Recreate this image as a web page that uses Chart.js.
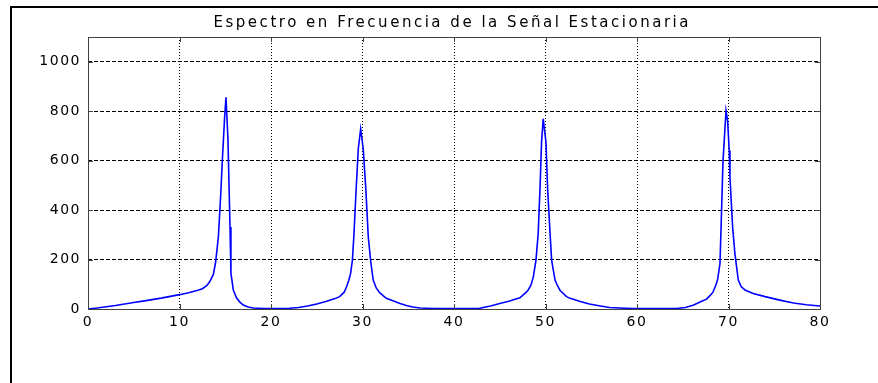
<!DOCTYPE html>
<html>
<head>
<meta charset="utf-8">
<script src="https://cdn.jsdelivr.net/npm/chart.js@4.4.1/dist/chart.umd.min.js"></script>
<style>
    html, body { margin: 0; padding: 0; background: #fff; }
    #wrap { width: 878px; height: 383px; }
</style>
</head>
<body>
<div id="wrap"><canvas id="spectrum" width="878" height="383"></canvas></div>
<script>
// Espectro de la señal
const chartTitle = 'Espectro en Frecuencia de la Señal Estacionaria';
const freq = [
    0, 1, 2, 3, 4, 5, 6, 7, 8, 9, 10, 11, 12, 12.5, 13, 13.3, 13.7, 13.95, 14.25, 14.5,
    14.7, 14.93, 15.08, 15.3, 15.52, 15.62, 15.88, 16.24, 16.6, 16.97, 17.5, 18.07, 18.6, 19.2, 21.5,
    22, 23, 24, 25, 26, 27, 27.5, 28, 28.26, 28.5, 28.7, 28.9, 29.07, 29.3, 29.54,
    29.8, 30.08, 30.37, 30.63, 30.9, 31.17, 31.5, 31.9, 32.6, 33.4, 34.1, 34.8, 35.5, 36.3, 37,
    37.8, 42.2, 42.8, 44, 45, 46.1, 46.5, 47.2, 47.9, 48.1, 48.4, 48.67, 48.96, 49.2, 49.4,
    49.57, 49.75, 50.05, 50.23, 50.5, 50.67, 51.04, 51.3, 51.6, 52.3, 52.7, 53.8, 54.8, 56, 57,
    58.1, 58.8, 59.5, 64.3, 65.3, 66.2, 67, 67.6, 68, 68.3, 68.6, 68.8, 69.07, 69.2, 69.4,
    69.55, 69.73, 69.9, 70.08, 70.16, 70.45, 70.7, 71.07, 71.4, 71.8, 72.7, 74, 75.6, 77.1, 78.5, 80
];
const magnitude = [
    0, 4, 9, 14, 20, 26, 32, 38, 44, 51, 58, 66, 76, 82, 95, 110, 140, 190, 292, 460,
    614, 775, 856, 681, 332, 145, 77, 44, 28, 16, 8, 4, 3, 2, 2,
    3, 6, 12, 20, 30, 42, 50, 68, 90, 115, 144, 198, 305, 480, 648,
    728, 648, 480, 292, 191, 117, 85, 65, 43, 32, 22, 14, 8, 4, 3,
    2, 2, 3, 12, 22, 32, 37, 45, 68, 77, 95, 130, 198, 305, 486,
    675, 769, 675, 486, 305, 198, 117, 95, 75, 50, 43, 30, 20, 12, 6,
    4, 3, 2, 2, 6, 16, 30, 40, 55, 68, 95, 117, 184, 345, 600,
    690, 802, 762, 641, 533, 332, 224, 117, 90, 77, 63, 50, 36, 24, 17, 12
];
const xTicks = [0, 10, 20, 30, 40, 50, 60, 70, 80];
const yTicks = [0, 200, 400, 600, 800, 1000];

const fontFamily = '"DejaVu Sans", "Liberation Sans", Arial, sans-serif';

// Marco de la figura, caja de ejes y título al estilo MATLAB
const figureFrame = {
    id: 'figureFrame',
    beforeDraw(chart) {
        const ctx = chart.ctx;
        ctx.save();
        ctx.fillStyle = '#fff';
        ctx.fillRect(0, 0, chart.width, chart.height);
        ctx.fillStyle = '#000';
        ctx.fillRect(10, 6, 2, chart.height - 6);
        ctx.fillRect(10, 6, chart.width - 10, 2);
        ctx.restore();
        ctx.letterSpacing = '1.5px';
    },
    afterDatasetsDraw(chart) {
        const ctx = chart.ctx;
        const a = chart.chartArea;
        const xs = chart.scales.x, ys = chart.scales.y;
        ctx.save();
        ctx.strokeStyle = '#404040';
        ctx.lineWidth = 1;
        ctx.strokeRect(a.left + 0.5, a.top + 0.5, a.right - a.left, a.bottom - a.top);
        ctx.beginPath();
        xTicks.forEach(v => {
            const px = Math.round(xs.getPixelForValue(v)) + 0.5;
            ctx.moveTo(px, a.bottom); ctx.lineTo(px, a.bottom - 5);
            ctx.moveTo(px, a.top); ctx.lineTo(px, a.top + 5);
        });
        yTicks.forEach(v => {
            const py = Math.round(ys.getPixelForValue(v)) + 0.5;
            ctx.moveTo(a.left, py); ctx.lineTo(a.left + 5, py);
            ctx.moveTo(a.right, py); ctx.lineTo(a.right - 5, py);
        });
        ctx.stroke();

        // título
        ctx.font = '15px ' + fontFamily;
        ctx.fillStyle = '#000';
        ctx.textAlign = 'left';
        ctx.textBaseline = 'alphabetic';
        ctx.letterSpacing = '0px';
        const w = ctx.measureText(chartTitle).width;
        const target = 475;
        ctx.letterSpacing = ((target - w) / (chartTitle.length - 1)) + 'px';
        ctx.fillText(chartTitle, (a.left + a.right) / 2 - 3 - target / 2, 27);
        ctx.restore();
    }
};

new Chart(document.getElementById('spectrum'), {
    type: 'line',
    data: {
        datasets: [{
            data: freq.map((f, i) => ({ x: f, y: magnitude[i] })),
            borderColor: '#0000ff',
            borderWidth: 1.6,
            pointRadius: 0,
            tension: 0,
            fill: false
        }]
    },
    options: {
        responsive: false,
        animation: false,
        layout: { padding: { top: 37, right: 58, left: 0, bottom: 0 } },
        plugins: { legend: { display: false }, tooltip: { enabled: false }, title: { display: false } },
        scales: {
            x: {
                type: 'linear',
                min: 0,
                max: 80,
                afterBuildTicks: s => { s.ticks = xTicks.map(v => ({ value: v })); },
                afterFit: s => { s.height = 74; },
                grid: { color: '#000', lineWidth: 1, drawTicks: false },
                border: { display: false, dash: [1, 2] },
                ticks: {
                    color: '#000',
                    font: { family: fontFamily, size: 14 },
                    padding: 5,
                    maxRotation: 0,
                    autoSkip: false,
                    callback: v => String(v)
                }
            },
            y: {
                type: 'linear',
                min: 0,
                max: 1100,
                afterBuildTicks: s => { s.ticks = yTicks.map(v => ({ value: v })); },
                afterFit: s => { s.width = 88; },
                grid: { color: '#000', lineWidth: 1, drawTicks: false },
                border: { display: false, dash: [4, 2] },
                ticks: {
                    color: '#000',
                    font: { family: fontFamily, size: 14 },
                    padding: 7,
                    autoSkip: false,
                    callback: v => String(v)
                }
            }
        }
    },
    plugins: [figureFrame]
});
</script>
</body>
</html>
